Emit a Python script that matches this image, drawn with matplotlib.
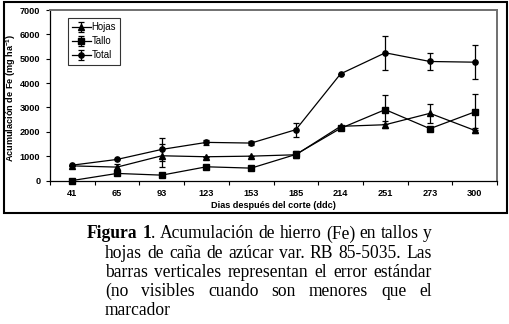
import matplotlib
matplotlib.use("Agg")
import matplotlib.pyplot as plt
from matplotlib.patches import Rectangle
import numpy as np

categories = ["41", "65", "93", "123", "153", "185", "214", "251", "273", "300"]
hojas = [600, 550, 1015, 975, 1000, 1057, 2224, 2290, 2758, 2059]
hojas_err = [0, 120, 470, 0, 0, 0, 0, 150, 400, 100]
tallo = [0, 290, 220, 563, 508, 1070, 2141, 2910, 2128, 2814]
tallo_err = [0, 0, 0, 0, 0, 150, 0, 590, 0, 750]
total = [630, 865, 1276, 1565, 1537, 2086, 4378, 5243, 4886, 4858]
total_err = [0, 0, 480, 100, 100, 290, 0, 705, 360, 700]
yticks = [0, 1000, 2000, 3000, 4000, 5000, 6000, 7000]

caption_lines = [
    [("Figura 1", "bold"), (".", "normal"), ("Acumulación de hierro (Fe) en tallos y", "normal")],
    [("hojas de caña de azúcar var. RB 85-5035. Las", "normal")],
    [("barras verticales representan el error estándar", "normal")],
    [("(no visibles cuando son menores que el", "normal")],
    [("marcador", "normal")],
]

plt.rcParams["mathtext.fontset"] = "custom"
plt.rcParams["mathtext.rm"] = "Liberation Sans"
plt.rcParams["mathtext.bf"] = "Liberation Sans:bold"

W, H = 509, 324
fig = plt.figure(figsize=(W / 100, H / 100), dpi=100)
SANS = "Liberation Sans"
SERIF = "Liberation Serif"
TFS = 6.6

# outer frame
fig.patches.append(Rectangle((3.5 / W, 1 - 212.5 / H), 503.5 / W, 210.5 / H,
                             transform=fig.transFigure, fill=False,
                             edgecolor="black", linewidth=1.5))

ax = fig.add_axes([50 / W, 1 - 180.5 / H, (497 - 50) / W, (180.5 - 10) / H])
x = np.arange(len(categories))
series = [("Hojas", hojas, hojas_err, "^", 4.8),
          ("Tallo", tallo, tallo_err, "s", 4.4),
          ("Total", total, total_err, "o", 3.8)]
for name, vals, err, mk, ms in series:
    ax.errorbar(x, vals, yerr=err, color="black", marker=mk, markersize=ms,
                linewidth=0.9, elinewidth=0.9, capsize=2.5, capthick=0.9,
                label=name, clip_on=False, zorder=3)

ax.set_xlim(-0.5, len(categories) - 0.5)
ax.set_ylim(0, 7000)
ax.set_yticks(yticks)
ax.set_yticklabels([str(v) for v in yticks], fontfamily=SANS, fontweight="bold", fontsize=TFS)
ax.set_xticks(np.arange(len(categories) + 1) - 0.5)
ax.set_xticklabels([])
ax.set_xticks(x, minor=True)
ax.set_xticklabels(categories, minor=True, fontfamily=SANS, fontweight="bold", fontsize=TFS)
ax.tick_params(axis="x", which="major", direction="out", length=3, width=0.8)
ax.tick_params(axis="x", which="minor", length=0, pad=6)
ax.tick_params(axis="y", direction="out", length=3, width=0.8, pad=4)
for s in ["left", "bottom"]:
    ax.spines[s].set_color("black")
    ax.spines[s].set_linewidth(0.9)
for s in ["top", "right"]:
    ax.spines[s].set_color("#707070")
    ax.spines[s].set_linewidth(1.4)

ax.set_xlabel("Dias después del corte (ddc)", fontfamily=SANS, fontweight="bold",
              fontsize=TFS, labelpad=2)
ax.set_ylabel("Acumulación de Fe (mg ha$\\mathbf{^{-1}}$)", fontfamily=SANS,
              fontweight="bold", fontsize=TFS)
ax.yaxis.set_label_coords((18 - 50) / 447, (180.5 - 98) / 170.5)

leg = ax.legend(loc="upper left", bbox_to_anchor=((68 - 50) / 447, (180.5 - 18) / 170.5),
                prop={"family": SANS, "size": 6.9}, frameon=True, fancybox=False,
                borderpad=0.45, handlelength=1.9, handletextpad=0.1, labelspacing=0.42,
                borderaxespad=0)
leg.get_frame().set_edgecolor("black")
leg.get_frame().set_linewidth(0.8)

# caption with full justification
fig.canvas.draw()
renderer = fig.canvas.get_renderer()

baselines = [238.5, 257.7, 276.9, 296.1, 315.3]
starts = [87, 105, 105, 105, 105]
right = 432


def tokenize(segs):
    tokens = []
    for txt, wt in segs:
        for p in txt.split(" "):
            if p == "":
                continue
            if txt == "." and tokens:
                tokens[-1].append((p, wt))
            else:
                tokens.append([(p, wt)])
    return tokens


# choose font size so that lines 1-3 fit with normal spacing
fits = []
for li in range(3):
    toks = tokenize(caption_lines[li])
    wsum = 0
    for tok in toks:
        for p, wt in tok:
            t = fig.text(0, 0, p, fontfamily=SERIF, fontweight=wt, fontsize=10)
            wsum += t.get_window_extent(renderer).width
            t.remove()
    ngap = len(toks) - 1
    avail = right - starts[li]
    # width(fs) = (wsum + ngap*0.25*10*100/72) * fs/10
    fits.append(10 * avail / (wsum + ngap * 0.25 * 10 * 100 / 72))
fs = min(fits)

for li, segs in enumerate(caption_lines):
    tokens = tokenize(segs)
    ybase = 1 - baselines[li] / H
    texts = []
    for tok in tokens:
        pieces = [fig.text(0, ybase, p, fontfamily=SERIF, fontweight=wt, fontsize=fs,
                           va="baseline", ha="left") for p, wt in tok]
        texts.append(pieces)
    fig.canvas.draw()
    widths = [[t.get_window_extent(renderer).width for t in pieces] for pieces in texts]
    total_w = sum(sum(w) for w in widths)
    n_gaps = len(texts) - 1
    last = li == len(caption_lines) - 1
    if last or n_gaps == 0:
        gap = fs * 0.25 * 100 / 72
    else:
        gap = (right - starts[li] - total_w) / n_gaps
    xpos = starts[li]
    for pieces, ws in zip(texts, widths):
        for t, w in zip(pieces, ws):
            t.set_x(xpos / W)
            xpos += w
        xpos += gap

fig.savefig("out.png", dpi=100)
